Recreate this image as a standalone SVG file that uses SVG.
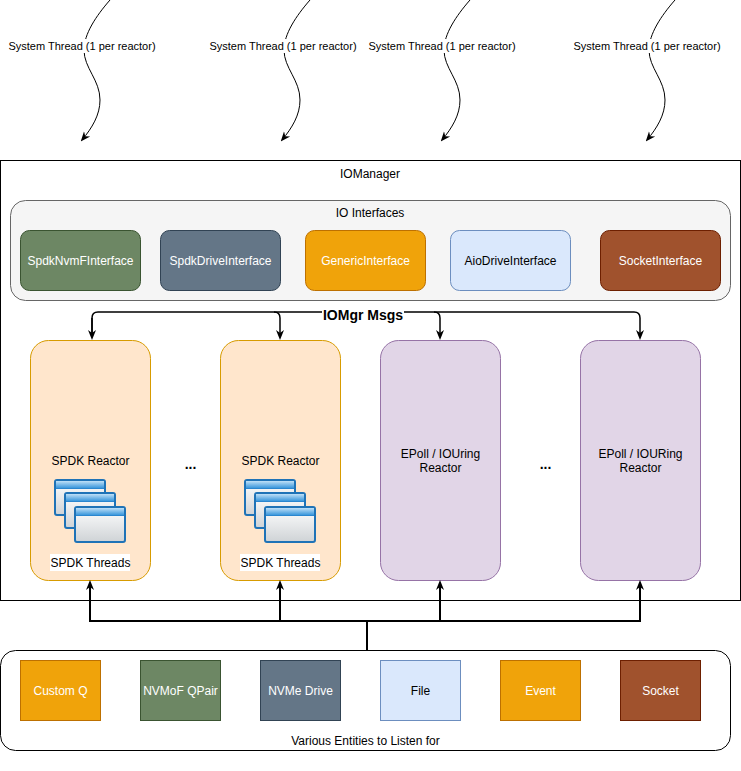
<svg xmlns="http://www.w3.org/2000/svg" width="741" height="771" viewBox="0 0 741 771">
<style>
text{font-family:"Liberation Sans",Arial,Helvetica,sans-serif;font-size:12px;text-anchor:middle;fill:#000}
.w{fill:#fff}
.thr{font-size:11px}
.b{font-weight:bold;font-size:14px}
.curve{fill:none;stroke:#000;stroke-width:1}
.conn{fill:none;stroke:#000;stroke-width:2}
.msg{stroke-width:1.5}
</style>
<defs>
<marker id="ah" viewBox="0 0 10 10" refX="6" refY="5" markerWidth="10" markerHeight="10" markerUnits="userSpaceOnUse" orient="auto">
<path d="M0,1 L10,5 L0,9 L3,5 Z" fill="#000"/>
</marker>
<marker id="ahc" viewBox="0 0 10 10" refX="8" refY="5" markerWidth="10" markerHeight="10" markerUnits="userSpaceOnUse" orient="auto">
<path d="M0,1 L10,5 L0,9 L3,5 Z" fill="#000"/>
</marker>
<linearGradient id="body" x1="0" y1="0" x2="0" y2="1">
<stop offset="0" stop-color="#ffffff"/>
<stop offset="1" stop-color="#cfd3d6"/>
</linearGradient>
<linearGradient id="bar" x1="0" y1="0" x2="0" y2="1">
<stop offset="0" stop-color="#bfe0f7"/>
<stop offset="1" stop-color="#3a97dc"/>
</linearGradient>
<g id="win">
<rect x="0" y="0" width="50" height="35" rx="2" fill="url(#body)" stroke="#1f73b7" stroke-width="2"/>
<rect x="1" y="1" width="48" height="7" fill="url(#bar)"/>
<line x1="1" y1="8.5" x2="49" y2="8.5" stroke="#2a86cf" stroke-width="1"/>
</g>
<g id="stack">
<use href="#win" x="0" y="0"/>
<use href="#win" x="10" y="13"/>
<use href="#win" x="20" y="27"/>
</g>
</defs>

<g id="threads">
<g id="thread1">
<path class="curve" d="M110,0 C96,16 84,34 84,50 C84,68 100,80 100,100 C100,115 92,128 82,140" marker-end="url(#ahc)"/>
<rect x="7" y="39" width="151" height="14" fill="#fff"/>
<text class="thr" x="82" y="50">System Thread (1 per reactor)</text>
</g>
<g id="thread2" transform="translate(200,0)">
<path class="curve" d="M110,0 C96,16 84,34 84,50 C84,68 100,80 100,100 C100,115 92,128 82,140" marker-end="url(#ahc)"/>
<rect x="7" y="39" width="151" height="14" fill="#fff"/>
<text class="thr" x="83" y="50">System Thread (1 per reactor)</text>
</g>
<g id="thread3" transform="translate(360,0)">
<path class="curve" d="M110,0 C96,16 84,34 84,50 C84,68 100,80 100,100 C100,115 92,128 82,140" marker-end="url(#ahc)"/>
<rect x="7" y="39" width="151" height="14" fill="#fff"/>
<text class="thr" x="82" y="50">System Thread (1 per reactor)</text>
</g>
<g id="thread4" transform="translate(565,0)">
<path class="curve" d="M110,0 C96,16 84,34 84,50 C84,68 100,80 100,100 C100,115 92,128 82,140" marker-end="url(#ahc)"/>
<rect x="7" y="39" width="151" height="14" fill="#fff"/>
<text class="thr" x="82" y="50">System Thread (1 per reactor)</text>
</g>
</g>

<g id="iomanager">
<rect x="0.5" y="160.5" width="740" height="440" fill="#fff" stroke="#000"/>
<text x="370" y="178">IOManager</text>
</g>

<g id="io-interfaces">
<rect x="10.5" y="200.5" width="720" height="100" rx="15" fill="#f5f5f5" stroke="#666"/>
<text x="370" y="217" fill="#333">IO Interfaces</text>
</g>
<g id="spdknvmf">
<rect x="20.5" y="230.5" width="120" height="60" rx="9" fill="#6d8764" stroke="#3a5431"/>
<text class="w" x="80.5" y="264.5">SpdkNvmFInterface</text>
</g>
<g id="spdkdrive">
<rect x="160.5" y="230.5" width="120" height="60" rx="9" fill="#647687" stroke="#314354"/>
<text class="w" x="220.5" y="264.5">SpdkDriveInterface</text>
</g>
<g id="generic">
<rect x="305.5" y="230.5" width="120" height="60" rx="9" fill="#f0a30a" stroke="#bd7000"/>
<text class="w" x="365.5" y="264.5">GenericInterface</text>
</g>
<g id="aiodrive">
<rect x="450.5" y="230.5" width="120" height="60" rx="9" fill="#dae8fc" stroke="#6c8ebf"/>
<text x="510.5" y="264.5">AioDriveInterface</text>
</g>
<g id="socketif">
<rect x="600.5" y="230.5" width="120" height="60" rx="9" fill="#a0522d" stroke="#6d1f00"/>
<text class="w" x="660.5" y="264.5">SocketInterface</text>
</g>

<g id="spdk-reactor-1">
<rect x="30.5" y="340.5" width="120" height="240" rx="18" fill="#ffe6cc" stroke="#d79b00"/>
<text x="90.5" y="465">SPDK Reactor</text>
<use href="#stack" x="55" y="480"/>
<rect x="50" y="554" width="80" height="17" fill="#fff"/>
<text x="90.5" y="567">SPDK Threads</text>
</g>
<g id="spdk-reactor-2">
<rect x="220.5" y="340.5" width="120" height="240" rx="18" fill="#ffe6cc" stroke="#d79b00"/>
<text x="280.5" y="465">SPDK Reactor</text>
<use href="#stack" x="245" y="480"/>
<rect x="240" y="554" width="80" height="17" fill="#fff"/>
<text x="280.5" y="567">SPDK Threads</text>
</g>
<g id="epoll-reactor-1">
<rect x="380.5" y="340.5" width="120" height="240" rx="18" fill="#e1d5e7" stroke="#9673a6"/>
<text x="440.5" y="458">EPoll / IOUring</text>
<text x="440.5" y="472">Reactor</text>
</g>
<g id="epoll-reactor-2">
<rect x="580.5" y="340.5" width="120" height="240" rx="18" fill="#e1d5e7" stroke="#9673a6"/>
<text x="640.5" y="458">EPoll / IOURing</text>
<text x="640.5" y="472">Reactor</text>
</g>
<g id="ellipses">
<text class="b" x="190.5" y="469">...</text>
<text class="b" x="545.5" y="469">...</text>
</g>

<g id="entities">
<rect x="0.5" y="650.5" width="730" height="100" rx="15" fill="#fff" stroke="#000"/>
<text x="365.5" y="745">Various Entities to Listen for</text>
</g>
<g id="customq">
<rect x="20.5" y="660.5" width="80" height="60" fill="#f0a30a" stroke="#bd7000"/>
<text class="w" x="60.5" y="694.5">Custom Q</text>
</g>
<g id="nvmofqpair">
<rect x="140.5" y="660.5" width="80" height="60" fill="#6d8764" stroke="#3a5431"/>
<text class="w" x="180.5" y="694.5">NVMoF QPair</text>
</g>
<g id="nvmedrive">
<rect x="260.5" y="660.5" width="80" height="60" fill="#647687" stroke="#314354"/>
<text class="w" x="300.5" y="694.5">NVMe Drive</text>
</g>
<g id="file">
<rect x="380.5" y="660.5" width="80" height="60" fill="#dae8fc" stroke="#6c8ebf"/>
<text x="420.5" y="694.5">File</text>
</g>
<g id="event">
<rect x="500.5" y="660.5" width="80" height="60" fill="#f0a30a" stroke="#bd7000"/>
<text class="w" x="540.5" y="694.5">Event</text>
</g>
<g id="socket">
<rect x="620.5" y="660.5" width="80" height="60" fill="#a0522d" stroke="#6d1f00"/>
<text class="w" x="660.5" y="694.5">Socket</text>
</g>

<g id="connectors">
<path class="conn msg" d="M92,336 V318 Q92,312 98,312 H634 Q640,312 640,318 V336" marker-end="url(#ah)"/>
<path class="conn msg" d="M274,312 Q280,312 280,318 V336" marker-end="url(#ah)"/>
<path class="conn msg" d="M434,312 Q440,312 440,318 V336" marker-end="url(#ah)"/>
<path class="conn msg" d="M92,318 V336" marker-end="url(#ah)"/>
<rect x="322" y="304" width="82" height="18" fill="#fff"/>
<text class="b" x="363" y="320">IOMgr Msgs</text>
<path class="conn" d="M367,650 V621 H90 V584" marker-end="url(#ah)"/>
<path class="conn" d="M367,650 V621 H280 V584" marker-end="url(#ah)"/>
<path class="conn" d="M367,650 V621 H440 V584" marker-end="url(#ah)"/>
<path class="conn" d="M367,650 V621 H640 V584" marker-end="url(#ah)"/>
</g>
</svg>
